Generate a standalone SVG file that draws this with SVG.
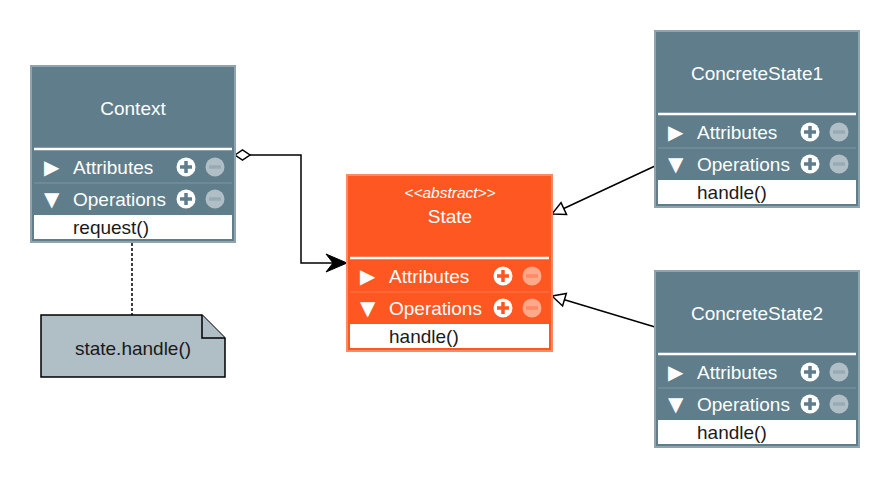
<svg xmlns="http://www.w3.org/2000/svg" width="890" height="479" viewBox="0 0 890 479">
<defs>
<style>
text{font-family:"Liberation Sans",Arial,sans-serif;}
.gbox{fill:#607d8b;stroke:#90a4ae;stroke-width:2;}
.obox{fill:#ff5722;stroke:#ff8a65;stroke-width:2;}
.title{fill:#ffffff;font-size:19px;text-anchor:middle;}
.stereo{fill:#ffffff;font-size:15.5px;font-style:italic;text-anchor:middle;}
.lbl{fill:#ffffff;font-size:19px;}
.tri{fill:#ffffff;font-size:20px;font-family:"DejaVu Sans",sans-serif;}
.sep{stroke:#ffffff;stroke-width:2.5;}
.gdiv{stroke:#7d97a3;stroke-width:1;}
.odiv{stroke:#ff7a50;stroke-width:1;}
.row{fill:#ffffff;}
.op{fill:#1a1a1a;font-size:19px;}
.plus{fill:#ffffff;}
.gminus{fill:#b0bec5;}
.ominus{fill:#ffa88a;}
.conn{fill:none;stroke:#000000;stroke-width:1.5;}
.note{fill:#b0bec5;stroke:#000000;stroke-width:1.5;}
.notetxt{fill:#1a1a1a;font-size:19px;text-anchor:middle;}
</style>
<marker id="inherit" viewBox="-15 -9 17 18" refX="0" refY="0" markerWidth="17" markerHeight="18" markerUnits="userSpaceOnUse" orient="auto">
<path d="M0,0 L-13,-6.5 L-13,6.5 Z" fill="#ffffff" stroke="#000000" stroke-width="1.5"/>
</marker>
<marker id="open" viewBox="-22 -11 24 22" refX="0" refY="0" markerWidth="24" markerHeight="22" markerUnits="userSpaceOnUse" orient="auto">
<path d="M0,0 L-21,-9 L-14,0 L-21,9 Z" fill="#000000" stroke="#000000" stroke-width="1"/>
</marker>
</defs>
<rect width="890" height="479" fill="#ffffff"/>

<g id="connectors">
<path class="conn" d="M250,155 H301 V263 H347" marker-end="url(#open)"/>
<path d="M235,155 L242.5,150 L250,155 L242.5,160 Z" fill="#ffffff" stroke="#000000" stroke-width="1.5"/>
<line class="conn" x1="655" y1="166" x2="552" y2="214" marker-end="url(#inherit)"/>
<line class="conn" x1="655" y1="327" x2="552" y2="296" marker-end="url(#inherit)"/>
<line class="conn" x1="132" y1="243" x2="132" y2="315" stroke-dasharray="3 2"/>
</g>

<g id="context">
<rect class="gbox" x="31" y="66" width="204" height="176"/>
<text class="title" x="133" y="115">Context</text>
<line class="sep" x1="34" y1="149" x2="232" y2="149"/>
<text class="tri" x="44" y="174">▶</text>
<text class="lbl" x="73" y="174">Attributes</text>
<circle class="plus" cx="186" cy="167" r="9.5"/>
<path d="M180,167 H192 M186,161 V173" stroke="#607d8b" stroke-width="3.5"/>
<circle class="gminus" cx="215" cy="167" r="9.5"/>
<path d="M209,167 H221" stroke="#98abb4" stroke-width="3.5"/>
<line class="gdiv" x1="34" y1="183" x2="232" y2="183"/>
<text class="tri" x="44" y="206">▼</text>
<text class="lbl" x="73" y="206">Operations</text>
<circle class="plus" cx="186" cy="199" r="9.5"/>
<path d="M180,199 H192 M186,193 V205" stroke="#607d8b" stroke-width="3.5"/>
<circle class="gminus" cx="215" cy="199" r="9.5"/>
<path d="M209,199 H221" stroke="#98abb4" stroke-width="3.5"/>
<rect class="row" x="34" y="215" width="198" height="24"/>
<text class="op" x="73" y="234">request()</text>
</g>

<g id="state">
<rect class="obox" x="347" y="175" width="205" height="176"/>
<text class="stereo" x="450" y="198">&lt;&lt;abstract&gt;&gt;</text>
<text class="title" x="450" y="223">State</text>
<line class="sep" x1="350" y1="258" x2="549" y2="258"/>
<text class="tri" x="360" y="283">▶</text>
<text class="lbl" x="389" y="283">Attributes</text>
<circle class="plus" cx="503" cy="276" r="9.5"/>
<path d="M497,276 H509 M503,270 V282" stroke="#ff5722" stroke-width="3.5"/>
<circle class="ominus" cx="532" cy="276" r="9.5"/>
<path d="M526,276 H538" stroke="#ff8a65" stroke-width="3.5"/>
<line class="odiv" x1="350" y1="292" x2="549" y2="292"/>
<text class="tri" x="360" y="315">▼</text>
<text class="lbl" x="389" y="315">Operations</text>
<circle class="plus" cx="503" cy="308" r="9.5"/>
<path d="M497,308 H509 M503,302 V314" stroke="#ff5722" stroke-width="3.5"/>
<circle class="ominus" cx="532" cy="308" r="9.5"/>
<path d="M526,308 H538" stroke="#ff8a65" stroke-width="3.5"/>
<rect class="row" x="350" y="324" width="199" height="24"/>
<text class="op" x="389" y="343">handle()</text>
</g>

<g id="concretestate1">
<rect class="gbox" x="655" y="31" width="204" height="176"/>
<text class="title" x="757" y="80">ConcreteState1</text>
<line class="sep" x1="658" y1="114" x2="856" y2="114"/>
<text class="tri" x="668" y="139">▶</text>
<text class="lbl" x="697" y="139">Attributes</text>
<circle class="plus" cx="810" cy="132" r="9.5"/>
<path d="M804,132 H816 M810,126 V138" stroke="#607d8b" stroke-width="3.5"/>
<circle class="gminus" cx="839" cy="132" r="9.5"/>
<path d="M833,132 H845" stroke="#98abb4" stroke-width="3.5"/>
<line class="gdiv" x1="658" y1="148" x2="856" y2="148"/>
<text class="tri" x="668" y="171">▼</text>
<text class="lbl" x="697" y="171">Operations</text>
<circle class="plus" cx="810" cy="164" r="9.5"/>
<path d="M804,164 H816 M810,158 V170" stroke="#607d8b" stroke-width="3.5"/>
<circle class="gminus" cx="839" cy="164" r="9.5"/>
<path d="M833,164 H845" stroke="#98abb4" stroke-width="3.5"/>
<rect class="row" x="658" y="180" width="198" height="24"/>
<text class="op" x="697" y="199">handle()</text>
</g>

<g id="concretestate2">
<rect class="gbox" x="655" y="271" width="204" height="176"/>
<text class="title" x="757" y="320">ConcreteState2</text>
<line class="sep" x1="658" y1="354" x2="856" y2="354"/>
<text class="tri" x="668" y="379">▶</text>
<text class="lbl" x="697" y="379">Attributes</text>
<circle class="plus" cx="810" cy="372" r="9.5"/>
<path d="M804,372 H816 M810,366 V378" stroke="#607d8b" stroke-width="3.5"/>
<circle class="gminus" cx="839" cy="372" r="9.5"/>
<path d="M833,372 H845" stroke="#98abb4" stroke-width="3.5"/>
<line class="gdiv" x1="658" y1="388" x2="856" y2="388"/>
<text class="tri" x="668" y="411">▼</text>
<text class="lbl" x="697" y="411">Operations</text>
<circle class="plus" cx="810" cy="404" r="9.5"/>
<path d="M804,404 H816 M810,398 V410" stroke="#607d8b" stroke-width="3.5"/>
<circle class="gminus" cx="839" cy="404" r="9.5"/>
<path d="M833,404 H845" stroke="#98abb4" stroke-width="3.5"/>
<rect class="row" x="658" y="420" width="198" height="24"/>
<text class="op" x="697" y="439">handle()</text>
</g>

<g id="note">
<path class="note" d="M41,315 H202 L225,338 V377 H41 Z"/>
<path class="note" d="M202,315 V338 H225" fill="none"/>
<text class="notetxt" x="133" y="355">state.handle()</text>
</g>
</svg>
